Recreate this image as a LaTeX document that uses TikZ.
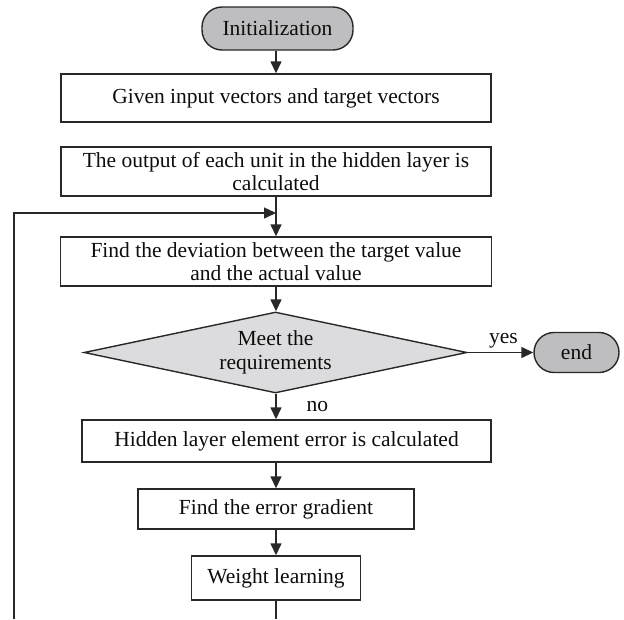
\documentclass[tikz,border=0pt]{standalone}
\usepackage{fontspec}
\setmainfont{Liberation Serif}
\usetikzlibrary{shapes.geometric,arrows.meta}
\definecolor{edge}{RGB}{40,40,40}
\definecolor{pillfill}{RGB}{190,190,192}
\definecolor{diafill}{RGB}{220,220,222}
\tikzset{
  base/.style={draw=edge, line width=1.4pt, inner sep=0pt, align=center,
    font=\fontsize{21.5}{23.5}\selectfont, text=black!95},
  procbox/.style={base, rectangle},
  pill/.style={base, rectangle, rounded corners=20pt, fill=pillfill},
  decision/.style={base, diamond, fill=diafill, aspect=4.73},
  conn/.style={draw=edge, line width=1.4pt},
  arr/.style={conn, -{Triangle[length=12pt,width=11pt]}},
  lbl/.style={font=\fontsize{21.5}{23.5}\selectfont, text=black!95, inner sep=1pt}
}
\begin{document}
\begin{tikzpicture}[x=1pt,y=1pt]
\useasboundingbox (0,0) rectangle (624,-619);
\node[pill, minimum width=151pt, minimum height=43pt] (init) at (277.5,-28.5) {Initialization};
\node[procbox, minimum width=430pt, minimum height=48pt] (given) at (276,-98) {Given input vectors and target vectors};
\node[procbox, minimum width=430pt, minimum height=49pt] (output) at (276,-171.5) {The output of each unit in the hidden layer is\\calculated};
\node[procbox, minimum width=431pt, minimum height=49pt] (dev) at (276,-261.5) {Find the deviation between the target value\\and the actual value};
\node[decision, minimum width=383pt, minimum height=81pt] (dia) at (275.5,-352.5) {Meet the\\requirements};
\node[pill, minimum width=85pt, minimum height=40pt] (end) at (576.5,-352.5) {end};
\node[procbox, minimum width=409pt, minimum height=42pt] (hidden) at (286.5,-441) {Hidden layer element error is calculated};
\node[procbox, minimum width=276pt, minimum height=40pt] (grad) at (276,-509) {Find the error gradient};
\node[procbox, minimum width=169pt, minimum height=44pt] (weight) at (276,-578) {Weight learning};
\coordinate (join) at (276,-213);
\coordinate (loopbot) at (14,-619);
\coordinate (loopcorner) at (14,-213);
\coordinate (wbot) at (276,-619);
\draw[arr] (init.south -| given.north) -- (given.north);
\draw[arr] (output.south) -- (dev.north);
\draw[arr] (loopbot) -- (loopcorner) -- (join);
\draw[arr] (dev.south) -- (dia.north -| dev.south);
\draw[arr] (dia.east) -- node[lbl, above=3pt, xshift=3pt] {yes} (end.west);
\draw[arr] (dia.south -| dev.south) -- node[lbl, right=29pt] {no} (dev.south |- hidden.north);
\draw[arr] (grad.north |- hidden.south) -- (grad.north);
\draw[arr] (weight.north |- grad.south) -- (weight.north);
\draw[conn] (weight.south) -- (wbot);
\end{tikzpicture}
\end{document}
